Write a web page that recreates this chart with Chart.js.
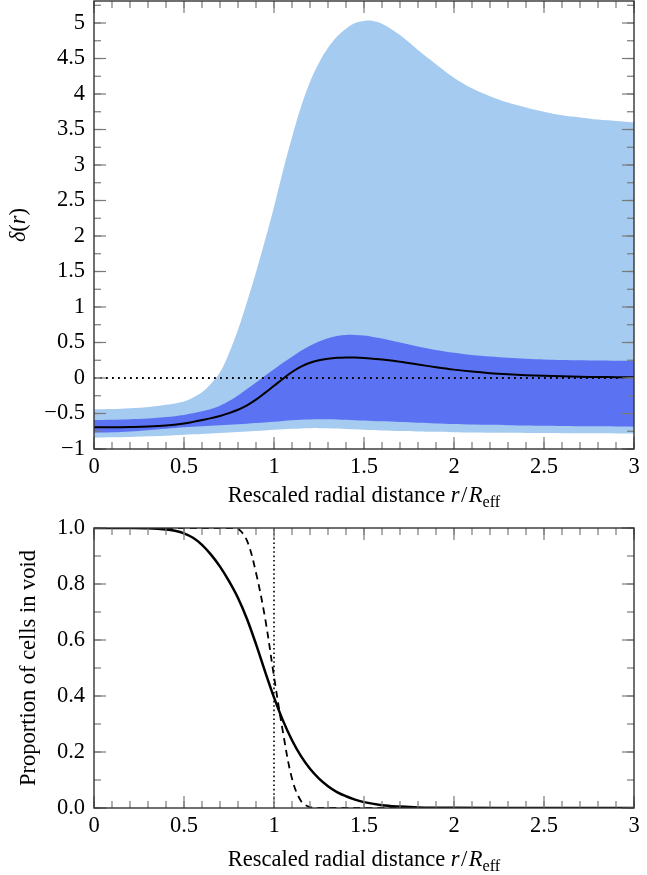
<!DOCTYPE html>
<html><head><meta charset="utf-8">
<script src="https://cdn.jsdelivr.net/npm/chart.js@4.4.1/dist/chart.umd.min.js"></script>
<style>
html,body{margin:0;padding:0;background:#fff;}
#wrap{position:relative;width:647px;height:875px;overflow:hidden;}
#c1{position:absolute;left:0;top:0;}
#c2{position:absolute;left:0;top:510px;}
</style></head><body>
<div id="wrap">
<canvas id="c1" width="647" height="510" style="width:647px;height:510px"></canvas>
<canvas id="c2" width="647" height="365" style="width:647px;height:365px"></canvas>
</div>
<script>
// ---------- Top panel data ----------
const rTop = [0, 0.1, 0.2, 0.3, 0.4,
  0.5, 0.55, 0.6, 0.65, 0.7, 0.75, 0.8, 0.85, 0.9, 0.95, 1.0, 1.05, 1.1, 1.15, 1.2, 1.25, 1.3, 1.35, 1.4, 1.45, 1.5, 1.55, 1.6,
  1.7, 1.8, 1.9, 2.0, 2.1, 2.2, 2.3, 2.4, 2.5, 2.6, 2.7, 2.8, 2.9, 3.0];
const deltaMedian = [-0.695, -0.694, -0.69, -0.683, -0.668,
  -0.64, -0.618, -0.592, -0.565, -0.535, -0.495, -0.447, -0.385, -0.305, -0.21, -0.11, -0.01, 0.085, 0.16, 0.215, 0.25, 0.272, 0.285, 0.29, 0.289, 0.283, 0.272, 0.26,
  0.228, 0.19, 0.152, 0.118, 0.09, 0.068, 0.052, 0.04, 0.031, 0.024, 0.018, 0.014, 0.011, 0.009];
const inner68Upper = [-0.59, -0.587, -0.58, -0.57, -0.55,
  -0.52, -0.498, -0.47, -0.435, -0.39, -0.325, -0.245, -0.155, -0.065, 0.03, 0.125, 0.215, 0.3, 0.385, 0.455, 0.515, 0.56, 0.593, 0.607, 0.607, 0.597, 0.578, 0.555,
  0.5, 0.445, 0.395, 0.355, 0.325, 0.303, 0.285, 0.272, 0.262, 0.255, 0.25, 0.246, 0.243, 0.24];
const inner68Lower = [-0.77, -0.765, -0.752, -0.735, -0.715,
  -0.695, -0.686, -0.678, -0.671, -0.665, -0.659, -0.652, -0.644, -0.635, -0.625, -0.615, -0.604, -0.594, -0.587, -0.583, -0.581, -0.582, -0.585, -0.589, -0.594, -0.6, -0.605, -0.61,
  -0.62, -0.63, -0.64, -0.648, -0.655, -0.66, -0.664, -0.668, -0.672, -0.675, -0.678, -0.681, -0.683, -0.685];
const outer95Upper = [-0.44, -0.436, -0.425, -0.407, -0.378,
  -0.33, -0.275, -0.2, -0.08, 0.08, 0.35, 0.68, 1.07, 1.49, 1.94, 2.41, 2.92, 3.39, 3.82, 4.17, 4.44, 4.65, 4.81, 4.92, 5.0, 5.03, 5.03, 4.99,
  4.83, 4.62, 4.42, 4.23, 4.08, 3.97, 3.88, 3.81, 3.75, 3.70, 3.67, 3.64, 3.62, 3.60];
const outer95Lower = [-0.84, -0.836, -0.83, -0.822, -0.812,
  -0.80, -0.794, -0.787, -0.78, -0.773, -0.766, -0.759, -0.752, -0.745, -0.738, -0.73, -0.722, -0.715, -0.71, -0.707, -0.706, -0.708, -0.712, -0.717, -0.722, -0.728, -0.733, -0.738,
  -0.746, -0.752, -0.758, -0.763, -0.767, -0.77, -0.772, -0.774, -0.776, -0.777, -0.778, -0.779, -0.78, -0.78];
const zeroLineX = [0, 3];
const zeroLineY = [0, 0];
const topYTicks = [-1, -0.5, 0, 0.5, 1, 1.5, 2, 2.5, 3, 3.5, 4, 4.5, 5];
const topYLabels = ['\u22121', '\u22120.5', '0', '0.5', '1', '1.5', '2', '2.5', '3', '3.5', '4', '4.5', '5'];

// ---------- Bottom panel data ----------
const rSolid = [0, 0.1, 0.2, 0.3, 0.4, 0.45, 0.5, 0.55, 0.6, 0.65, 0.7, 0.75, 0.8, 0.85, 0.9, 0.95, 1.0, 1.05, 1.1, 1.15, 1.2, 1.25, 1.3, 1.35, 1.4, 1.45, 1.5, 1.6, 1.7, 1.8, 2.0, 2.5, 3.0];
const propSolid = [1, 1, 1, 0.999, 0.995, 0.99, 0.981, 0.965, 0.94, 0.905, 0.862, 0.81, 0.75, 0.675, 0.585, 0.488, 0.395, 0.312, 0.242, 0.185, 0.14, 0.105, 0.078, 0.057, 0.042, 0.03, 0.021, 0.01, 0.005, 0.002, 0.0005, 0, 0];
const rDashed = [0, 0.75, 0.8, 0.85, 0.9, 0.95, 1.0, 1.05, 1.1, 1.15, 1.2, 1.25, 3.0];
const propDashed = [1, 1, 0.997, 0.955, 0.84, 0.68, 0.47, 0.27, 0.105, 0.025, 0.003, 0, 0];
const markX = [1, 1];
const markY = [0, 1];
const bottomYTicks = [0, 0.2, 0.4, 0.6, 0.8, 1.0];
const bottomYLabels = ['0.0', '0.2', '0.4', '0.6', '0.8', '1.0'];

// ---------- Shared x ticks ----------
const xTicks = [0, 0.5, 1, 1.5, 2, 2.5, 3];
const xLabels = ['0', '0.5', '1', '1.5', '2', '2.5', '3'];

const pts = (xs, ys) => xs.map((x, i) => ({x: x, y: ys[i]}));

const FONT = "'Liberation Serif', 'Times New Roman', serif";
const TICK_FONT_SIZE = 22.5;
const TITLE_FONT_SIZE = 22.5;

function drawRich(ctx, parts, cx, cy, rotate) {
  ctx.save();
  ctx.translate(cx, cy);
  if (rotate) ctx.rotate(-Math.PI / 2);
  ctx.fillStyle = '#000';
  ctx.textBaseline = 'alphabetic';
  const fontFor = p => (p.italic ? 'italic ' : '') + (TITLE_FONT_SIZE * (p.sub ? 0.72 : 1)).toFixed(1) + 'px ' + FONT;
  let total = 0;
  const widths = parts.map(p => { ctx.font = fontFor(p); const w = ctx.measureText(p.text).width + (p.kern || 0); total += w; return w; });
  let x = -total / 2;
  parts.forEach((p, i) => {
    ctx.font = fontFor(p);
    ctx.fillText(p.text, x, p.sub ? TITLE_FONT_SIZE * 0.22 : 0);
    x += widths[i];
  });
  ctx.restore();
}

const frameTicks = {
  id: 'frameTicks',
  afterDraw(chart, args, o) {
    const {ctx, chartArea: a, scales} = chart;
    const xs = scales.x, ys = scales.y;
    ctx.save();
    ctx.strokeStyle = '#7a7a7a';
    ctx.lineWidth = 1.2;
    const seg = (x1, y1, x2, y2) => { ctx.beginPath(); ctx.moveTo(x1, y1); ctx.lineTo(x2, y2); ctx.stroke(); };
    const xTick = (v, len) => { const p = xs.getPixelForValue(v); seg(p, a.bottom, p, a.bottom - len); seg(p, a.top, p, a.top + len); };
    const yTick = (v, len) => { const p = ys.getPixelForValue(v); seg(a.left, p, a.left + len, p); seg(a.right, p, a.right - len, p); };
    const nX = Math.round((xs.max - xs.min) / o.minorX);
    for (let i = 0; i <= nX; i++) xTick(xs.min + i * o.minorX, 7);
    const y0 = Math.ceil(ys.min / o.minorY - 1e-9);
    const y1 = Math.floor(ys.max / o.minorY + 1e-9);
    for (let i = y0; i <= y1; i++) yTick(i * o.minorY, 7);
    xs.ticks.forEach(t => xTick(t.value, 12));
    ys.ticks.forEach(t => yTick(t.value, 12));
    ctx.strokeStyle = '#333';
    ctx.lineWidth = 1.4;
    ctx.strokeRect(a.left, a.top, a.right - a.left, a.bottom - a.top);
    ctx.restore();
    const cx = (a.left + a.right) / 2;
    drawRich(ctx, o.xTitle, cx, o.xTitleY, false);
    if (o.yTitle) drawRich(ctx, o.yTitle, o.yTitleX, (a.top + a.bottom) / 2, true);
  }
};

const xTitleParts = [
  {text: 'Rescaled radial distance '},
  {text: 'r', italic: true, kern: 1.5},
  {text: '/', kern: 1.5},
  {text: 'R', italic: true},
  {text: 'eff', sub: true}
];

function xScale() {
  return {
    type: 'linear', min: 0, max: 3,
    afterBuildTicks: s => { s.ticks = xTicks.map(v => ({value: v})); },
    afterFit: s => { s.height = s.chart.height - s.chart.options.__areaBottom; s.paddingLeft = 0; s.paddingRight = 0; },
    grid: {display: false, drawTicks: false},
    border: {display: false},
    ticks: {
      font: {family: FONT, size: TICK_FONT_SIZE}, color: '#000', padding: 5, maxRotation: 0,
      callback: (v, i) => xLabels[i]
    }
  };
}

const smooth = {tension: 0.35, cubicInterpolationMode: 'default'};

const topChart = new Chart(document.getElementById('c1'), {
  type: 'line',
  data: {
    datasets: [
      Object.assign({data: pts(rTop, deltaMedian), borderColor: '#000', borderWidth: 2, pointRadius: 0, fill: false, order: 1}, smooth),
      Object.assign({data: pts(rTop, inner68Upper), borderWidth: 0, borderColor: 'rgba(0,0,0,0)', backgroundColor: '#5b73f2', pointRadius: 0, fill: 2, order: 2}, smooth),
      Object.assign({data: pts(rTop, inner68Lower), borderWidth: 0, borderColor: 'rgba(0,0,0,0)', pointRadius: 0, fill: false, order: 3}, smooth),
      Object.assign({data: pts(rTop, outer95Upper), borderWidth: 0, borderColor: 'rgba(0,0,0,0)', backgroundColor: '#a6cbf0', pointRadius: 0, fill: 4, order: 4}, smooth),
      Object.assign({data: pts(rTop, outer95Lower), borderWidth: 0, borderColor: 'rgba(0,0,0,0)', pointRadius: 0, fill: false, order: 5}, smooth),
      {data: pts(zeroLineX, zeroLineY), borderColor: '#000', borderWidth: 1.8, borderDash: [1.8, 4.2], pointRadius: 0, fill: false, order: 0}
    ]
  },
  options: {
    __areaBottom: 449,
    responsive: false, animation: false, devicePixelRatio: 1,
    layout: {padding: {top: 1, right: 13, left: 0, bottom: 0}},
    plugins: {legend: {display: false}, tooltip: {enabled: false},
      frameTicks: {minorX: 0.1, minorY: 0.25, xTitle: xTitleParts, xTitleY: 502,
        yTitle: [{text: '\u03b4', italic: true}, {text: '('}, {text: 'r', italic: true}, {text: ')'}], yTitleX: 25}},
    scales: {
      x: xScale(),
      y: {
        type: 'linear', min: -1, max: 5.31,
        afterBuildTicks: s => { s.ticks = topYTicks.map(v => ({value: v})); },
        afterFit: s => { s.width = 94; s.paddingTop = 0; s.paddingBottom = 0; },
        grid: {display: false, drawTicks: false},
        border: {display: false},
        ticks: {font: {family: FONT, size: TICK_FONT_SIZE}, color: '#000', padding: 9, callback: (v, i) => topYLabels[i]}
      }
    }
  },
  plugins: [frameTicks]
});

const bottomChart = new Chart(document.getElementById('c2'), {
  type: 'line',
  data: {
    datasets: [
      Object.assign({data: pts(rSolid, propSolid), borderColor: '#000', borderWidth: 2.5, pointRadius: 0, fill: false, order: 1}, smooth),
      Object.assign({data: pts(rDashed, propDashed), borderColor: '#000', borderWidth: 1.8, borderDash: [7, 5], pointRadius: 0, fill: false, order: 2}, smooth),
      {data: pts(markX, markY), borderColor: '#000', borderWidth: 1.6, borderDash: [1.6, 2.8], pointRadius: 0, fill: false, order: 0}
    ]
  },
  options: {
    __areaBottom: 298,
    responsive: false, animation: false, devicePixelRatio: 1,
    layout: {padding: {top: 18, right: 13, left: 0, bottom: 0}},
    plugins: {legend: {display: false}, tooltip: {enabled: false},
      frameTicks: {minorX: 0.1, minorY: 0.1, xTitle: xTitleParts, xTitleY: 356}},
    scales: {
      x: xScale(),
      y: {
        type: 'linear', min: 0, max: 1,
        afterBuildTicks: s => { s.ticks = bottomYTicks.map(v => ({value: v})); },
        afterFit: s => { s.width = 94; s.paddingTop = 0; s.paddingBottom = 0; },
        grid: {display: false, drawTicks: false},
        border: {display: false},
        title: {display: true, text: 'Proportion of cells in void', font: {family: FONT, size: TITLE_FONT_SIZE}, color: '#000', padding: {top: 16, bottom: 0}},
        ticks: {font: {family: FONT, size: TICK_FONT_SIZE}, color: '#000', padding: 9, callback: (v, i) => bottomYLabels[i]}
      }
    }
  },
  plugins: [frameTicks]
});
</script>
</body></html>
